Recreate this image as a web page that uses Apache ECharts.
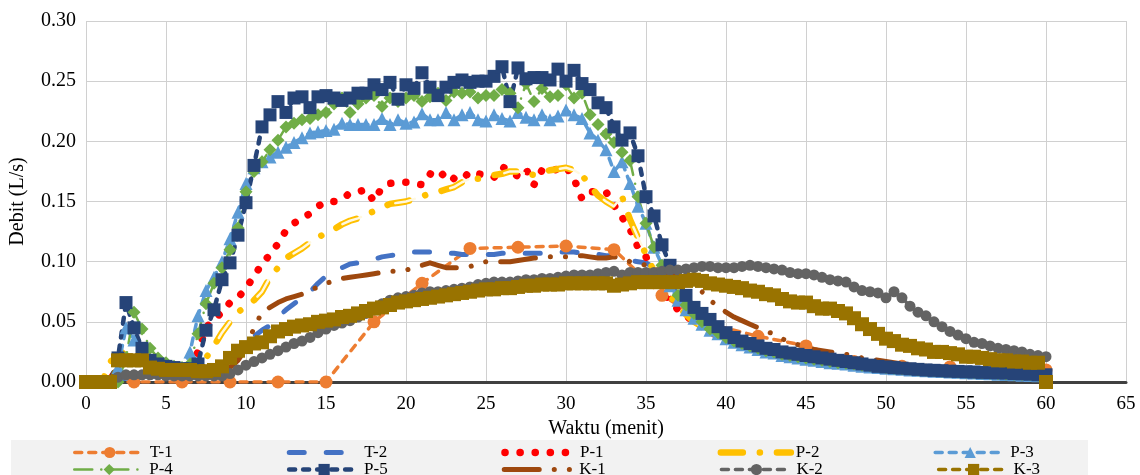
<!DOCTYPE html>
<html>
<head>
<meta charset="utf-8">
<script src="https://cdn.jsdelivr.net/npm/echarts@6/dist/echarts.min.js"></script>
<style>
html,body{margin:0;padding:0;background:#fff;}
#chart{width:1140px;height:475px;}
</style>
</head>
<body>
<div id="chart"></div>
<script>
// ---- DATA ----
const TIME = [
  0,0.5,1,1.5,2,2.5,3,3.5,4,4.5,
  5,5.5,6,6.5,7,7.5,8,8.5,9,9.5,
  10,10.5,11,11.5,12,12.5,13,13.5,14,14.5,
  15,15.5,16,16.5,17,17.5,18,18.5,19,19.5,
  20,20.5,21,21.5,22,22.5,23,23.5,24,24.5,
  25,25.5,26,26.5,27,27.5,28,28.5,29,29.5,
  30,30.5,31,31.5,32,32.5,33,33.5,34,34.5,
  35,35.5,36,36.5,37,37.5,38,38.5,39,39.5,
  40,40.5,41,41.5,42,42.5,43,43.5,44,44.5,
  45,45.5,46,46.5,47,47.5,48,48.5,49,49.5,
  50,50.5,51,51.5,52,52.5,53,53.5,54,54.5,
  55,55.5,56,56.5,57,57.5,58,58.5,59,59.5,
  60];
const T1_TIME = [0,3,6,9,12,15,18,21,24,27,30,33,36,39,42,45,48,51,54,57,60];
const T1 = [0,0,0,0,0,0,0.05,0.082,0.111,0.112,0.113,0.11,0.072,0.048,0.038,0.03,0.017,0.013,0.0125,0.01,0.01];
const T2 = [
  0,0,0,0,0.002,0.003,0.004,0.006,0.006,0.006,
  0.006,0.006,0.006,0.006,0.007,0.007,0.008,0.012,0.018,0.025,
  0.032,0.038,0.043,0.047,0.054,0.06,0.065,0.07,0.075,0.082,
  0.088,0.092,0.095,0.098,0.099,0.101,0.102,0.104,0.105,0.106,
  0.107,0.108,0.108,0.108,0.107,0.107,0.107,0.106,0.106,0.106,
  0.106,0.106,0.107,0.107,0.107,0.107,0.107,0.107,0.108,0.108,
  0.108,0.108,0.107,0.106,0.106,0.105,0.105,0.103,0.101,0.1,
  0.099,0.095,0.09,0.082,0.072,0.066,0.06,0.055,0.05,0.046,
  0.042,0.038,0.035,0.032,0.03,0.028,0.027,0.025,0.024,0.023,
  0.022,0.021,0.02,0.019,0.018,0.017,0.016,0.015,0.0145,0.014,
  0.0135,0.013,0.0125,0.012,0.0115,0.011,0.0105,0.01,0.0098,0.0095,
  0.0092,0.009,0.0087,0.0085,0.0082,0.008,0.0078,0.0076,0.0074,0.0072,
  0.007];
const P1 = [
  0,0,0,0,0.015,0.02,0.018,0.015,0.013,0.012,
  0.011,0.01,0.01,0.012,0.025,0.045,0.052,0.058,0.066,0.07,
  0.078,0.088,0.098,0.106,0.115,0.126,0.132,0.136,0.14,0.146,
  0.15,0.15,0.152,0.157,0.158,0.16,0.15,0.162,0.165,0.166,
  0.166,0.165,0.164,0.173,0.169,0.175,0.169,0.168,0.175,0.173,
  0.172,0.17,0.179,0.175,0.171,0.177,0.164,0.176,0.175,0.177,
  0.179,0.169,0.152,0.158,0.158,0.158,0.147,0.137,0.127,0.112,
  0.104,0.088,0.075,0.068,0.06,0.055,0.05,0.046,0.042,0.038,
  0.035,0.032,0.03,0.028,0.026,0.025,0.024,0.023,0.022,0.021,
  0.02,0.019,0.018,0.017,0.016,0.015,0.0145,0.014,0.0135,0.013,
  0.0125,0.012,0.0115,0.011,0.0105,0.01,0.0098,0.0095,0.0092,0.009,
  0.0088,0.0085,0.0082,0.008,0.0078,0.0075,0.0072,0.007,0.0068,0.0065,
  0.0063];
const P2 = [
  0,0,0,0.016,0.027,0.022,0.02,0.017,0.015,0.014,
  0.013,0.012,0.012,0.012,0.012,0.02,0.03,0.041,0.05,0.058,
  0.063,0.068,0.075,0.087,0.095,0.103,0.107,0.111,0.116,0.12,
  0.124,0.127,0.131,0.134,0.136,0.139,0.142,0.145,0.148,0.149,
  0.15,0.152,0.154,0.157,0.158,0.16,0.162,0.166,0.169,0.169,
  0.17,0.172,0.173,0.175,0.175,0.173,0.172,0.174,0.176,0.177,
  0.178,0.176,0.172,0.163,0.155,0.15,0.146,0.154,0.135,0.12,
  0.106,0.092,0.08,0.072,0.063,0.056,0.05,0.046,0.042,0.038,
  0.035,0.032,0.03,0.028,0.026,0.025,0.024,0.023,0.022,0.021,
  0.02,0.019,0.018,0.017,0.016,0.015,0.0145,0.014,0.0135,0.013,
  0.0125,0.012,0.0115,0.011,0.0105,0.01,0.0098,0.0095,0.0092,0.009,
  0.0088,0.0085,0.0082,0.008,0.0078,0.0075,0.0072,0.007,0.0068,0.0065,
  0.0063];
const P3 = [
  0,0,0,0,0.012,0.045,0.035,0.025,0.019,0.015,
  0.012,0.011,0.01,0.025,0.055,0.076,0.087,0.1,0.119,0.141,
  0.165,0.178,0.183,0.187,0.191,0.195,0.199,0.203,0.207,0.208,
  0.209,0.21,0.215,0.214,0.214,0.214,0.214,0.219,0.214,0.218,
  0.215,0.216,0.223,0.218,0.218,0.224,0.218,0.222,0.224,0.218,
  0.217,0.222,0.219,0.217,0.224,0.22,0.218,0.222,0.218,0.221,
  0.226,0.222,0.219,0.207,0.201,0.193,0.175,0.183,0.165,0.146,
  0.132,0.112,0.097,0.08,0.068,0.06,0.053,0.048,0.043,0.04,
  0.036,0.033,0.031,0.029,0.027,0.025,0.024,0.022,0.021,0.02,
  0.019,0.018,0.017,0.016,0.0155,0.015,0.014,0.013,0.0125,0.012,
  0.0115,0.011,0.0105,0.01,0.0097,0.0093,0.009,0.0087,0.0083,0.008,
  0.0077,0.0074,0.0071,0.0068,0.0065,0.0062,0.006,0.0057,0.0055,0.0052,
  0.005];
const P4 = [
  0,0,0,0,0,0.02,0.058,0.044,0.028,0.02,
  0.016,0.013,0.012,0.015,0.04,0.065,0.082,0.095,0.11,0.128,
  0.158,0.175,0.183,0.193,0.201,0.212,0.215,0.218,0.219,0.222,
  0.224,0.231,0.236,0.224,0.231,0.236,0.238,0.229,0.236,0.233,
  0.236,0.238,0.233,0.237,0.24,0.234,0.241,0.24,0.241,0.236,
  0.238,0.238,0.243,0.24,0.228,0.248,0.233,0.244,0.237,0.238,
  0.247,0.236,0.24,0.222,0.214,0.206,0.199,0.191,0.184,0.154,
  0.132,0.112,0.097,0.082,0.072,0.064,0.057,0.05,0.044,0.041,
  0.037,0.034,0.032,0.03,0.028,0.026,0.025,0.023,0.022,0.021,
  0.02,0.019,0.018,0.017,0.016,0.0155,0.015,0.014,0.0135,0.013,
  0.012,0.0115,0.011,0.0105,0.01,0.0097,0.0094,0.009,0.0087,0.0084,
  0.008,0.0078,0.0075,0.0072,0.007,0.0067,0.0064,0.0062,0.006,0.0057,
  0.0055];
const P5 = [
  0,0,0,0,0.02,0.066,0.045,0.028,0.018,0.015,
  0.013,0.012,0.011,0.011,0.015,0.043,0.06,0.085,0.099,0.122,
  0.149,0.18,0.212,0.222,0.233,0.224,0.236,0.237,0.228,0.237,
  0.238,0.236,0.234,0.236,0.24,0.24,0.247,0.243,0.249,0.235,
  0.247,0.244,0.257,0.245,0.238,0.245,0.249,0.251,0.249,0.25,
  0.25,0.254,0.262,0.233,0.261,0.252,0.253,0.253,0.251,0.26,
  0.25,0.259,0.248,0.243,0.232,0.228,0.212,0.201,0.207,0.188,
  0.154,0.138,0.114,0.097,0.083,0.072,0.062,0.057,0.052,0.046,
  0.041,0.037,0.034,0.032,0.03,0.028,0.027,0.025,0.024,0.023,
  0.022,0.021,0.02,0.019,0.018,0.017,0.016,0.015,0.014,0.013,
  0.0125,0.012,0.0115,0.011,0.0105,0.01,0.0097,0.0094,0.009,0.0088,
  0.0085,0.0083,0.008,0.0078,0.0076,0.0075,0.007,0.0068,0.0065,0.006,
  0.006];
const K1 = [
  0,0,0,0,0.015,0.025,0.02,0.015,0.012,0.011,
  0.01,0.01,0.01,0.01,0.01,0.01,0.01,0.011,0.012,0.018,
  0.028,0.045,0.058,0.062,0.066,0.069,0.071,0.073,0.076,0.079,
  0.082,0.084,0.086,0.087,0.088,0.089,0.09,0.091,0.092,0.092,
  0.093,0.095,0.097,0.099,0.097,0.095,0.095,0.095,0.096,0.098,
  0.1,0.1,0.1,0.1,0.101,0.102,0.103,0.103,0.104,0.104,
  0.104,0.105,0.105,0.104,0.103,0.103,0.104,0.103,0.1,0.099,
  0.097,0.096,0.093,0.09,0.088,0.085,0.08,0.075,0.068,0.063,
  0.058,0.054,0.051,0.048,0.045,0.042,0.04,0.036,0.033,0.031,
  0.029,0.027,0.026,0.025,0.024,0.023,0.022,0.02,0.019,0.018,
  0.017,0.016,0.015,0.014,0.0135,0.013,0.013,0.0125,0.0125,0.012,
  0.011,0.011,0.01,0.01,0.0095,0.009,0.009,0.0088,0.0086,0.0085,
  0.008];
const K2 = [
  0,0,0,0,0.004,0.006,0.006,0.006,0.006,0.006,
  0.005,0.005,0.005,0.005,0.005,0.005,0.005,0.005,0.007,0.01,
  0.014,0.017,0.02,0.023,0.026,0.029,0.032,0.034,0.037,0.041,
  0.044,0.047,0.049,0.051,0.054,0.057,0.06,0.065,0.068,0.07,
  0.071,0.072,0.074,0.075,0.075,0.076,0.077,0.078,0.079,0.081,
  0.082,0.083,0.083,0.083,0.084,0.085,0.085,0.086,0.086,0.087,
  0.088,0.089,0.089,0.089,0.09,0.091,0.092,0.089,0.091,0.091,
  0.091,0.091,0.092,0.093,0.093,0.094,0.095,0.096,0.096,0.095,
  0.095,0.095,0.096,0.097,0.096,0.095,0.094,0.093,0.091,0.09,
  0.09,0.089,0.087,0.085,0.084,0.083,0.079,0.076,0.075,0.074,
  0.07,0.075,0.07,0.063,0.058,0.055,0.05,0.046,0.042,0.039,
  0.036,0.033,0.032,0.03,0.028,0.027,0.026,0.025,0.023,0.022,
  0.021];
const K3 = [
  0,0,0,0,0.018,0.018,0.018,0.018,0.012,0.011,
  0.01,0.01,0.01,0.01,0.009,0.009,0.01,0.013,0.02,0.026,
  0.029,0.032,0.033,0.038,0.042,0.044,0.046,0.047,0.048,0.05,
  0.051,0.052,0.054,0.055,0.057,0.059,0.061,0.062,0.064,0.066,
  0.067,0.068,0.069,0.07,0.071,0.072,0.073,0.074,0.075,0.076,
  0.077,0.077,0.078,0.078,0.079,0.08,0.08,0.081,0.081,0.081,
  0.082,0.082,0.082,0.082,0.082,0.082,0.08,0.081,0.082,0.083,
  0.083,0.083,0.083,0.083,0.083,0.084,0.085,0.084,0.082,0.081,
  0.08,0.079,0.078,0.076,0.075,0.073,0.072,0.069,0.067,0.066,
  0.066,0.063,0.061,0.061,0.059,0.057,0.053,0.048,0.044,0.04,
  0.036,0.034,0.031,0.03,0.028,0.027,0.025,0.025,0.024,0.023,
  0.021,0.021,0.02,0.019,0.018,0.018,0.017,0.017,0.016,0.016,
  0];
const X_TICKS = [0,5,10,15,20,25,30,35,40,45,50,55,60,65];
const Y_TICKS = [0,0.05,0.10,0.15,0.20,0.25,0.30];
const LEGEND_ROW1 = ['T-1','T-2','P-1','P-2','P-3'];
const LEGEND_ROW2 = ['P-4','P-5','K-1','K-2','K-3'];

// ---- STYLES ----
const FONT = '"Liberation Serif", "Times New Roman", serif';
const STYLE = {
  'T-1': { color: '#ED7D31', width: 3.5, dash: [7, 7], symbol: 'circle', size: 13 },
  'T-2': { color: '#4472C4', width: 5, dash: [15, 22], symbol: 'none', size: 0 },
  'P-1': { color: '#FF0000', width: 7.5, dash: [0.1, 15], symbol: 'none', size: 0 },
  'P-2': { color: '#FFC000', width: 6.5, dash: [22, 17, 0.1, 17], symbol: 'none', size: 0 },
  'P-3': { color: '#5B9BD5', width: 3.5, dash: [7, 7], symbol: 'triangle', size: 13 },
  'P-4': { color: '#70AD47', width: 2.5, dash: [18, 9, 0.1, 9], symbol: 'diamond', size: 13 },
  'P-5': { color: '#264478', width: 4.5, dash: [6, 8], symbol: 'rect', size: 13 },
  'K-1': { color: '#9E480E', width: 5, dash: [35, 15, 0.1, 15, 0.1, 15], symbol: 'none', size: 0 },
  'K-2': { color: '#636363', width: 3.5, dash: [7, 7], symbol: 'circle', size: 11 },
  'K-3': { color: '#997300', width: 3.5, dash: [7, 7], symbol: 'rect', size: 14 }
};
const pair = (xs, ys) => xs.map((x, i) => [x, ys[i]]);

function lineSeries(name, xs, ys, st, extraLine) {
  return {
    name: name,
    type: 'line',
    data: pair(xs, ys),
    symbol: st.symbol,
    symbolSize: st.size,
    showSymbol: st.symbol !== 'none',
    showAllSymbol: true,
    color: st.color,
    itemStyle: { color: st.color, borderWidth: 0 },
    lineStyle: Object.assign({ color: st.color, width: st.width, type: st.dash, cap: 'round', join: 'round' }, extraLine || {}),
    emphasis: { disabled: true },
    animation: false,
    silent: true
  };
}

const legendItems = names => names.map(n => {
  const st = STYLE[n];
  const item = {
    name: n,
    lineStyle: { color: st.color, width: st.width, type: st.dash, cap: 'round', join: 'round', opacity: 1 }
  };
  if (st.symbol === 'none') item.itemStyle = { opacity: 0 };
  return item;
});

const legendCommon = {
  orient: 'horizontal',
  left: 73,
  itemWidth: 70,
  itemHeight: 14,
  itemGap: 114,
  padding: 0,
  selectedMode: false,
  textStyle: { fontFamily: FONT, fontSize: 17, color: '#000' }
};

const chart = echarts.init(document.getElementById('chart'), null, { renderer: 'canvas' });

const option = {
  backgroundColor: '#ffffff',
  animation: false,
  graphic: [{
    type: 'rect',
    left: 11, top: 440,
    shape: { width: 1077, height: 40 },
    style: { fill: '#f2f2f2' },
    z: -10, silent: true
  }],
  grid: { left: 86, right: 14, top: 21, bottom: 93, containLabel: false },
  xAxis: {
    type: 'value',
    min: X_TICKS[0], max: X_TICKS[X_TICKS.length - 1], interval: 5,
    name: 'Waktu (menit)',
    nameLocation: 'middle',
    nameGap: 34,
    nameTextStyle: { fontFamily: FONT, fontSize: 20, color: '#000' },
    axisLine: { show: true, onZero: true, lineStyle: { color: '#404040', width: 3 } },
    axisTick: { show: false },
    axisLabel: { fontFamily: FONT, fontSize: 19, color: '#000', margin: 13 },
    splitLine: { show: true, lineStyle: { color: '#d0d0d0', width: 1 } }
  },
  yAxis: {
    type: 'value',
    min: Y_TICKS[0], max: Y_TICKS[Y_TICKS.length - 1], interval: 0.05,
    name: 'Debit (L/s)',
    nameLocation: 'middle',
    nameRotate: 90,
    nameGap: 58,
    nameTextStyle: { fontFamily: FONT, fontSize: 20, color: '#000' },
    axisLine: { show: false },
    axisTick: { show: false },
    axisLabel: { fontFamily: FONT, fontSize: 20, color: '#000', margin: 10,
      formatter: v => v.toFixed(2) },
    splitLine: { show: true, lineStyle: { color: '#d0d0d0', width: 1 } }
  },
  legend: [
    Object.assign({}, legendCommon, { top: 444, data: legendItems(LEGEND_ROW1) }),
    Object.assign({}, legendCommon, { top: 461, data: legendItems(LEGEND_ROW2) })
  ],
  series: [
    lineSeries('T-1', T1_TIME, T1, STYLE['T-1']),
    lineSeries('T-2', TIME, T2, STYLE['T-2']),
    lineSeries('P-1', TIME, P1, STYLE['P-1']),
    lineSeries('P-2', TIME, P2, STYLE['P-2']),
    lineSeries('P-2 inner', TIME, P2, STYLE['P-2'],
      { color: '#FFF8E0', width: 2.5, type: [20, 37.1], dashOffset: -1 }),
    lineSeries('P-3', TIME, P3, STYLE['P-3']),
    lineSeries('P-4', TIME, P4, STYLE['P-4']),
    lineSeries('P-5', TIME, P5, STYLE['P-5']),
    lineSeries('K-1', TIME, K1, STYLE['K-1']),
    lineSeries('K-2', TIME, K2, STYLE['K-2']),
    lineSeries('K-3', TIME, K3, STYLE['K-3'])
  ]
};
chart.setOption(option);
</script>
</body>
</html>
